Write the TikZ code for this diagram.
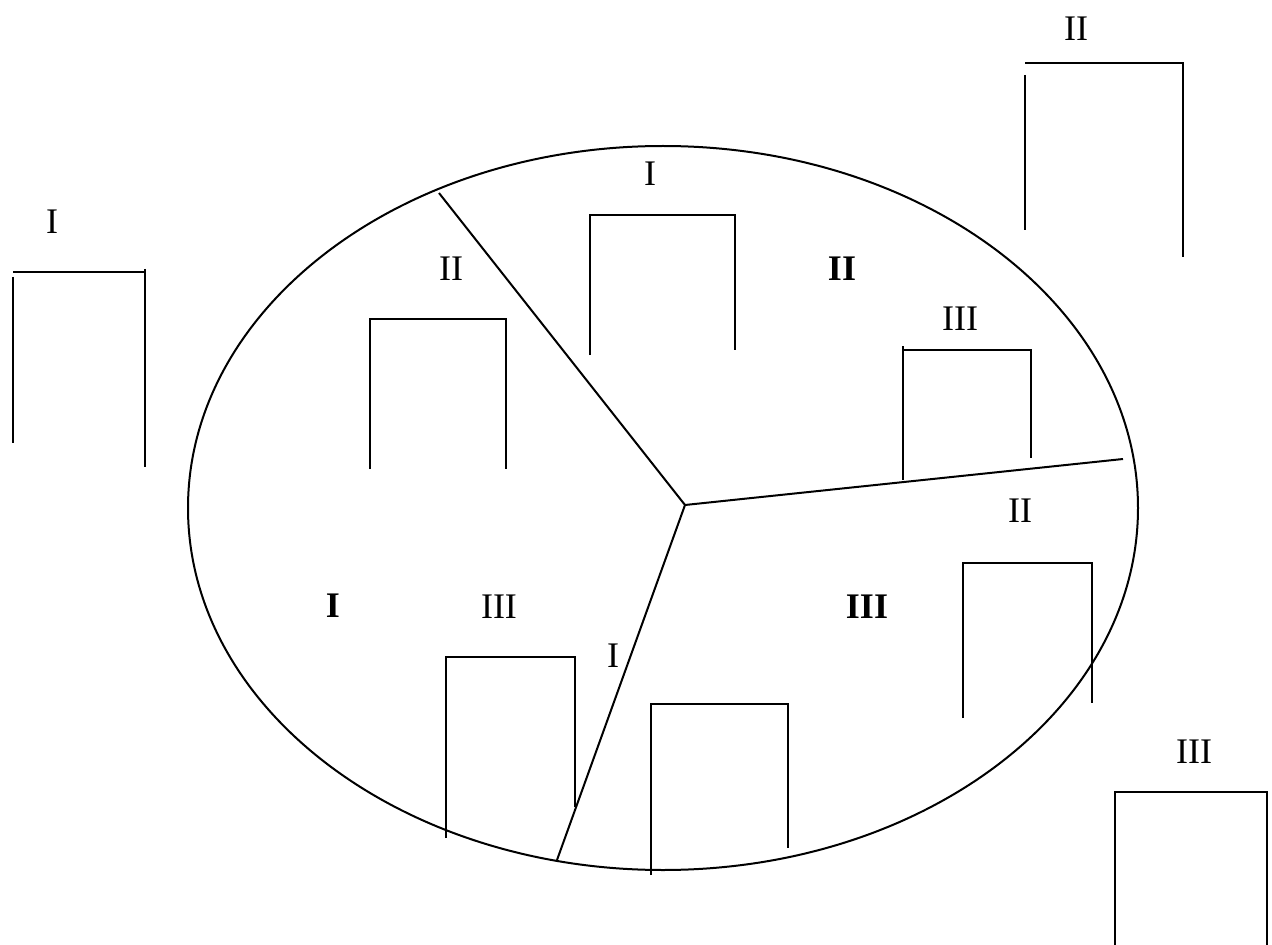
\documentclass[tikz,border=0pt]{standalone}
\usepackage{fontspec}
\setmainfont{Liberation Serif}
\begin{document}
\begin{tikzpicture}[x=0.75pt,y=-0.75pt,
  lab/.style={inner sep=0pt,font=\fontsize{27}{27}\selectfont},
  blab/.style={lab,font=\fontsize{27}{27}\selectfont\bfseries},
  ln/.style={line width=1.5pt,black}]
\useasboundingbox (0,0) rectangle (1272,945);
% ellipse
\draw[ln] (663,508) ellipse [x radius=475, y radius=362];
% dividing lines
\coordinate (c) at (685,505);
\coordinate (e1) at (439,193);
\coordinate (e2) at (1123,459);
\coordinate (e3) at (557,860);
\draw[ln] (e1) -- (c) -- (e2);
\draw[ln] (c) -- (e3);
% region labels (bold)
\node[blab] (rI) at (333,606) {I};
\node[blab] (rII) at (842,269) {II};
\node[blab] (rIII) at (867,607) {III};
% bracket labels
\node[lab] (l1) at (52,222) {I};
\node[lab] (l2) at (451,269) {II};
\node[lab] (l3) at (650,174) {I};
\node[lab] (l4) at (1076,29) {II};
\node[lab] (l5) at (960,319) {III};
\node[lab] (l6) at (499,607) {III};
\node[lab] (l7) at (613,656) {I};
\node[lab] (l8) at (1020,511) {II};
\node[lab] (l9) at (1194,752) {III};
% brackets
\draw[ln] (13,277) -- (13,443);
\draw[ln] (13,272) -- (145,272);
\draw[ln] (145,269) -- (145,467);
\draw[ln] (370,469) -- (370,319) -- (506,319) -- (506,469);
\draw[ln] (590,355) -- (590,215) -- (735,215) -- (735,350);
\draw[ln] (1025,75) -- (1025,230);
\draw[ln] (1025,63) -- (1183,63) -- (1183,257);
\draw[ln] (903,346) -- (903,480);
\draw[ln] (903,350) -- (1031,350) -- (1031,458);
\draw[ln] (446,838) -- (446,657) -- (575,657) -- (575,807);
\draw[ln] (651,875) -- (651,704) -- (788,704) -- (788,848);
\draw[ln] (963,718) -- (963,563) -- (1092,563) -- (1092,703);
\draw[ln] (1115,945) -- (1115,792) -- (1267,792) -- (1267,945);
\end{tikzpicture}
\end{document}
